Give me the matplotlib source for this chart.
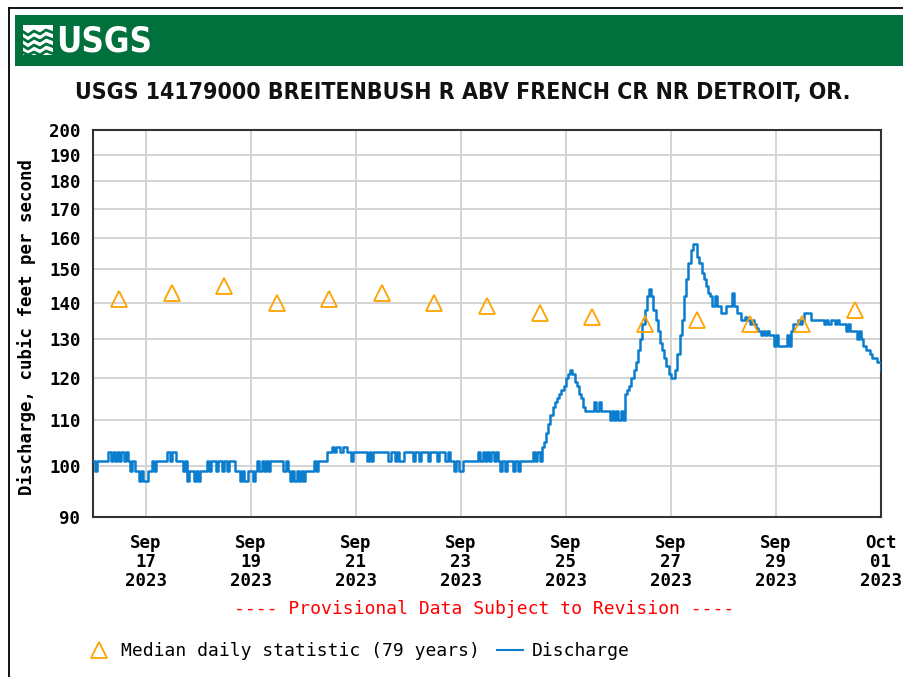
import numpy as np
import pandas as pd
import matplotlib
matplotlib.use('Agg')
import matplotlib.pyplot as plt
from matplotlib.ticker import FixedLocator, NullLocator, FuncFormatter
from matplotlib.lines import Line2D
from matplotlib.patches import Rectangle

# hourly discharge (cfs) starting 2023-09-16 00:00, one row per day
discharge = [
    101, 99, 101, 101, 101, 101, 101, 103, 101, 103, 101, 103, 101, 103, 101, 103, 101, 99, 101, 99, 99, 97, 99, 97,
    97, 99, 99, 101, 99, 101, 101, 101, 101, 101, 103, 101, 103, 103, 101, 101, 101, 99, 101, 97, 99, 99, 97, 99,
    97, 99, 99, 99, 101, 99, 101, 101, 99, 101, 101, 99, 101, 99, 101, 101, 101, 99, 99, 97, 99, 97, 97, 99,
    99, 97, 99, 101, 99, 101, 99, 101, 99, 101, 101, 101, 101, 101, 101, 99, 101, 99, 97, 99, 97, 99, 97, 99,
    97, 99, 99, 99, 99, 101, 99, 101, 101, 101, 101, 103, 103, 104, 103, 104, 104, 103, 104, 104, 103, 103, 101, 103,
    103, 103, 103, 103, 103, 101, 103, 101, 103, 103, 103, 103, 103, 103, 103, 101, 103, 103, 101, 103, 101, 101, 103, 103,
    103, 103, 101, 103, 103, 101, 103, 103, 103, 101, 103, 103, 103, 101, 103, 103, 103, 101, 103, 101, 101, 99, 101, 99,
    99, 101, 101, 101, 101, 101, 101, 101, 103, 101, 103, 101, 103, 101, 103, 101, 103, 101, 99, 101, 99, 101, 101, 101,
    99, 101, 99, 101, 101, 101, 101, 101, 101, 103, 101, 103, 101, 104, 105, 107, 109, 111, 113, 114, 115, 116, 117, 118,
    120, 121, 122, 121, 119, 118, 116, 115, 113, 112, 112, 112, 112, 114, 112, 114, 112, 112, 112, 112, 110, 112, 110, 112,
    110, 112, 110, 116, 117, 118, 120, 122, 124, 127, 130, 134, 138, 142, 144, 142, 138, 135, 132, 129, 127, 125, 123, 121,
    120, 120, 122, 126, 131, 135, 142, 147, 152, 156, 158, 158, 154, 152, 149, 147, 145, 143, 142, 139, 142, 139, 139, 137,
    137, 139, 139, 139, 143, 139, 137, 137, 135, 135, 136, 135, 134, 135, 134, 133, 132, 131, 132, 131, 132, 131, 131, 128,
    131, 128, 128, 128, 128, 131, 128, 132, 134, 134, 135, 134, 135, 137, 137, 137, 135, 135, 135, 135, 135, 135, 134, 135,
    134, 135, 135, 134, 135, 134, 134, 134, 132, 134, 132, 132, 132, 130, 132, 130, 128, 127, 127, 126, 125, 125, 124, 124,
    122,
]
start = '2023-09-16 00:00'

# median daily statistic (79 years), plotted at noon
median_cfs = [141, 143, 145, 140, 141, 143, 140, 139, 137, 136, 134, 135, 134, 134, 138]
median_start = '2023-09-16 12:00'

yticks = [90, 100, 110, 120, 130, 140, 150, 160, 170, 180, 190, 200]
title = 'USGS 14179000 BREITENBUSH R ABV FRENCH CR NR DETROIT, OR.'

times = pd.date_range(start, periods=len(discharge), freq='h')
med_times = pd.date_range(median_start, periods=len(median_cfs), freq='D')
xticks = pd.date_range('2023-09-17', '2023-10-01', freq='2D')
xlabels = [t.strftime('%b\n%d\n%Y') for t in xticks]

W, H = 904, 677
def fx(px):
    return px / W
def fy(py):
    return 1 - py / H

mono = ['DejaVu Sans Mono']
narrow = ['DejaVu Sans']
blue = '#0b7dcf'
orange = '#ffa200'
green = '#00703c'

fig = plt.figure(figsize=(9.04, 6.77), dpi=100)

# frame and banner
fig.add_artist(Line2D([fx(9), fx(9)], [fy(8), 0], color='black', lw=1.3, transform=fig.transFigure))
fig.add_artist(Line2D([fx(9), 1], [fy(8), fy(8)], color='black', lw=1.3, transform=fig.transFigure))
fig.add_artist(Rectangle((fx(15), fy(66)), 1 - fx(15), 51 / H, color=green, transform=fig.transFigure, lw=0))
# logo: white square crossed by green waves
fig.add_artist(Rectangle((fx(23), fy(55)), 30 / W, 30 / H, color='white', transform=fig.transFigure, lw=0))
for dy in [4, 11, 18, 25]:
    xs = [22, 28, 34, 40, 46, 54]
    ys = [27 + dy, 31 + dy, 27 + dy, 30 + dy, 26 + dy, 29 + dy]
    ys = [min(max(v, 25), 55) for v in ys]
    fig.add_artist(Line2D([fx(v) for v in xs], [fy(v) for v in ys], color=green, lw=2.0,
                          transform=fig.transFigure))
fig.text(fx(56), fy(41), 'USGS', color='white', fontsize=25, fontweight='bold', fontstretch='condensed',
         family=narrow, ha='left', va='center')

fig.text(fx(463), fy(93), title, fontsize=16.6, fontweight='bold', fontstretch='condensed', family=narrow,
         ha='center', va='center', color='#111111')

ax = fig.add_axes([fx(93), fy(517), fx(881) - fx(93), (517 - 130) / H])
ax.plot(times, discharge, drawstyle='steps-post', color=blue, lw=1.8, zorder=3)
ax.plot(med_times, median_cfs, ls='none', marker='^', ms=11, mfc='none', mec=orange, mew=1.3, zorder=4)

ax.set_yscale('log')
ax.set_ylim(90, 200)
ax.yaxis.set_major_locator(FixedLocator(yticks))
ax.yaxis.set_minor_locator(NullLocator())
ax.yaxis.set_major_formatter(FuncFormatter(lambda v, p: '%d' % v))
ax.set_xlim(pd.Timestamp('2023-09-16'), pd.Timestamp('2023-10-01'))
ax.set_xticks(xticks, xlabels, linespacing=1.1)
ax.xaxis.set_minor_locator(NullLocator())

ax.grid(True, color='#d4d4d4', lw=1.4, zorder=0)
ax.set_axisbelow(True)
for s in ax.spines.values():
    s.set_color('#333333')
    s.set_linewidth(1.5)
ax.tick_params(length=0, labelsize=12.5)
ax.tick_params(axis='y', pad=9)
ax.tick_params(axis='x', pad=12)
for lab in ax.get_xticklabels() + ax.get_yticklabels():
    lab.set_family(mono)
    lab.set_fontweight('bold')

fig.text(fx(27), fy(327), 'Discharge, cubic feet per second', rotation=90, family=mono,
         fontweight='bold', fontsize=12.5, ha='center', va='center')

fig.text(fx(484), fy(609), '---- Provisional Data Subject to Revision ----', color='red',
         family=mono, fontsize=13, ha='center', va='center')

# legend
fig.add_artist(Line2D([fx(99)], [fy(650)], ls='none', marker='^', ms=11, mfc='none', mec=orange,
                      mew=1.3, transform=fig.transFigure))
fig.text(fx(121), fy(651), 'Median daily statistic (79 years)', family=mono, fontsize=13,
         ha='left', va='center')
fig.add_artist(Line2D([fx(497), fx(523)], [fy(650), fy(650)], color=blue, lw=1.5,
                      transform=fig.transFigure))
fig.text(fx(532), fy(651), 'Discharge', family=mono, fontsize=13, ha='left', va='center')

fig.savefig('out.png', dpi=100)
